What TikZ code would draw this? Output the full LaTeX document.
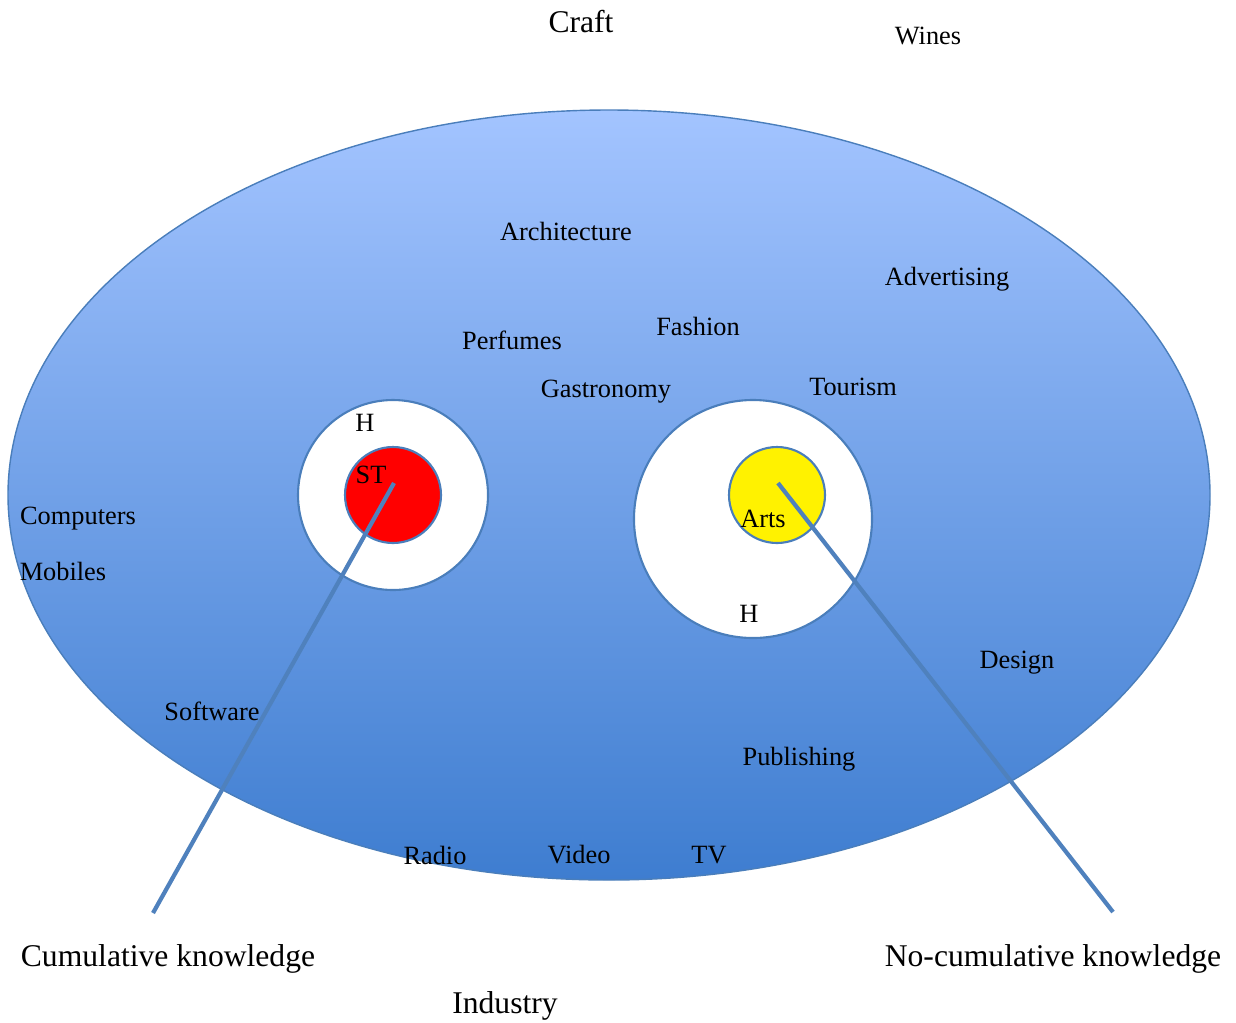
\documentclass[tikz,border=0pt]{standalone}
\usepackage{fontspec}
\setmainfont{Liberation Serif}
\definecolor{skytop}{RGB}{163,196,255}
\definecolor{skybot}{RGB}{62,125,208}
\definecolor{rim}{RGB}{74,126,187}
\definecolor{stick}{RGB}{79,129,189}
\tikzset{
  lab/.style={font=\fontsize{15}{18}\selectfont, inner sep=0pt},
  biglab/.style={font=\fontsize{18}{21}\selectfont, inner sep=0pt},
  disc/.style={draw=rim, line width=1.2pt},
  pointer/.style={draw=stick, line width=2.4pt}
}
\begin{document}
\begin{tikzpicture}[x=0.02cm, y=-0.02cm]
    \useasboundingbox (0,0) rectangle (1236,1022);
    % big oval
    \shade[top color=skytop, bottom color=skybot, draw=rim, line width=0.8pt] (609,495) ellipse (601 and 385);
    % human capital and core
    \draw[disc, fill=white] (393,495) circle (95);
    \draw[disc, fill=white] (753,519) circle (119);
    \draw[disc, fill=red] (393,495) circle (48);
    \draw[disc, fill=yellow] (777,495) circle (48);
    \coordinate (stcore) at (394,483);
    \coordinate (artscore) at (778,483);
    \coordinate (cumend) at (153,913);
    \coordinate (nocumend) at (1113,912);
    \draw[pointer] (stcore) -- (cumend);
    \draw[pointer] (artscore) -- (nocumend);
    % sectors
    \node[biglab] (craft) at (581,22) {Craft};
    \node[lab] (wines) at (928,36) {Wines};
    \node[lab] (archi) at (566,231) {Architecture};
    \node[lab] (advert) at (947,279) {Advertising};
    \node[lab] (perfume) at (512,340) {Perfumes};
    \node[lab] (fashion) at (698,326) {Fashion};
    \node[lab] (gastro) at (606,392) {Gastronomy};
    \node[lab] (tourism) at (853,387) {Tourism};
    \node[lab] (hleft) at (365,423) {H};
    \node[lab] (st) at (371,475) {ST};
    \node[lab] (computers) at (78,519) {Computers};
    \node[lab] (mobiles) at (63,571) {Mobiles};
    \node[lab] (arts) at (763,519) {Arts};
    \node[lab] (hright) at (749,614) {H};
    \node[lab] (design) at (1017,663) {Design};
    \node[lab] (software) at (212,711) {Software};
    \node[lab] (publish) at (799,759) {Publishing};
    \node[lab] (radio) at (435,855) {Radio};
    \node[lab] (video) at (579,855) {Video};
    \node[lab] (tv) at (709,855) {TV};
    \node[biglab] (cumul) at (168,959) {Cumulative knowledge};
    \node[biglab] (nocumul) at (1053,959) {No-cumulative knowledge};
    \node[biglab] (industry) at (505,1006) {Industry};
\end{tikzpicture}
\end{document}
